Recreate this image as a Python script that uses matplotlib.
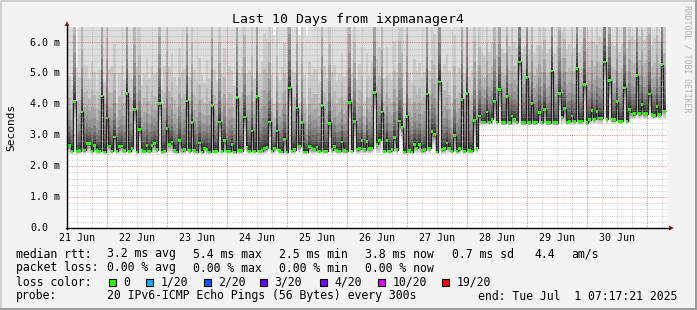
import numpy as np
import matplotlib
matplotlib.use("Agg")
from matplotlib import pyplot as plt
from matplotlib.patches import Polygon, Rectangle

plt.rcParams['font.family'] = 'DejaVu Sans Mono'

# hourly bins, one row per day (hours since graph start)
median = [
    2.68, 2.48, 4.10, 2.48, 2.50, 3.75, 2.52, 2.73, 2.72, 2.48, 2.68, 2.50, 2.48, 4.27, 2.46, 3.56, 2.65, 2.48, 2.94, 2.48, 2.63, 2.65, 2.50, 4.35,
    2.48, 2.58, 3.83, 2.46, 3.18, 2.50, 2.48, 2.66, 2.48, 2.66, 2.72, 2.53, 4.02, 2.46, 2.48, 3.22, 2.71, 2.78, 2.50, 2.46, 2.83, 2.50, 2.53, 4.11,
    2.50, 3.41, 2.50, 2.46, 2.75, 2.46, 2.58, 2.55, 2.46, 3.95, 2.48, 2.48, 3.43, 2.48, 2.83, 2.48, 2.48, 2.70, 2.46, 4.21, 2.50, 2.50, 3.59, 2.62,
    2.48, 3.14, 2.48, 4.24, 2.48, 2.50, 2.56, 2.60, 3.43, 2.48, 2.58, 3.14, 2.50, 2.46, 2.86, 2.46, 4.53, 2.48, 2.53, 3.88, 2.65, 3.40, 2.46, 2.46,
    2.63, 2.56, 2.53, 2.62, 2.48, 3.95, 2.48, 2.48, 3.38, 2.53, 2.63, 2.50, 2.48, 2.78, 2.50, 2.48, 4.06, 2.48, 3.45, 2.53, 2.56, 2.84, 2.53, 2.80,
    2.56, 2.58, 4.38, 2.71, 2.84, 3.75, 2.48, 2.84, 2.48, 2.53, 2.92, 2.53, 3.46, 3.24, 2.46, 3.61, 2.50, 2.46, 2.70, 2.58, 2.71, 2.50, 2.53, 4.33,
    2.58, 3.11, 3.02, 2.46, 4.72, 2.53, 2.56, 2.75, 2.58, 2.48, 2.99, 2.48, 2.56, 4.16, 2.48, 4.35, 2.50, 2.48, 3.48, 2.58, 3.62, 3.43, 3.43, 3.75,
    3.43, 3.52, 4.10, 3.43, 4.49, 3.40, 3.40, 4.24, 3.40, 3.62, 3.52, 3.43, 5.37, 3.40, 3.40, 4.86, 3.40, 4.02, 3.40, 3.43, 3.73, 3.40, 3.84, 3.40,
    3.40, 5.08, 3.40, 3.40, 4.35, 3.59, 3.86, 3.42, 3.45, 3.62, 3.45, 5.16, 3.45, 3.45, 4.64, 3.40, 3.50, 3.81, 3.52, 3.78, 3.56, 3.56, 5.37, 3.52,
    4.76, 3.50, 3.50, 4.08, 3.45, 3.45, 4.53, 3.45, 3.84, 3.67, 3.70, 4.92, 3.70, 3.99, 3.70, 3.70, 4.33, 3.67, 3.63, 3.92, 3.67, 5.28, 3.78,
]

# lowest ping of each bin
lowest = [
    2.40, 2.40, 3.58, 2.40, 2.40, 3.30, 2.40, 2.42, 2.42, 2.40, 2.41, 2.40, 2.40, 3.62, 2.40, 3.10, 2.40, 2.40, 2.45, 2.40, 2.40, 2.41, 2.40, 3.70,
    2.40, 2.41, 3.35, 2.40, 2.80, 2.40, 2.40, 2.41, 2.40, 2.41, 2.42, 2.40, 3.50, 2.40, 2.40, 2.80, 2.41, 2.42, 2.40, 2.40, 2.44, 2.40, 2.40, 3.60,
    2.40, 2.95, 2.40, 2.40, 2.42, 2.40, 2.41, 2.40, 2.40, 3.45, 2.40, 2.40, 2.95, 2.40, 2.43, 2.40, 2.40, 2.41, 2.40, 3.68, 2.40, 2.40, 3.10, 2.41,
    2.40, 2.75, 2.40, 3.70, 2.40, 2.40, 2.40, 2.41, 2.95, 2.40, 2.40, 2.75, 2.40, 2.40, 2.44, 2.40, 3.95, 2.40, 2.40, 3.35, 2.41, 2.95, 2.40, 2.40,
    2.41, 2.40, 2.40, 2.41, 2.40, 3.45, 2.40, 2.40, 2.92, 2.40, 2.41, 2.40, 2.40, 2.42, 2.40, 2.40, 3.55, 2.40, 2.98, 2.40, 2.40, 2.43, 2.40, 2.42,
    2.40, 2.41, 3.85, 2.41, 2.43, 3.25, 2.40, 2.43, 2.40, 2.40, 2.45, 2.40, 2.98, 2.80, 2.40, 3.12, 2.40, 2.40, 2.41, 2.40, 2.41, 2.40, 2.40, 3.80,
    2.41, 2.70, 2.62, 2.40, 4.15, 2.40, 2.40, 2.42, 2.41, 2.40, 2.50, 2.40, 2.40, 3.62, 2.40, 3.80, 2.40, 2.40, 3.00, 2.41, 3.30, 3.32, 3.32, 3.34,
    3.32, 3.33, 3.55, 3.32, 3.90, 3.32, 3.32, 3.70, 3.32, 3.34, 3.33, 3.32, 4.80, 3.32, 3.32, 4.30, 3.32, 3.50, 3.32, 3.32, 3.36, 3.32, 3.40, 3.32,
    3.32, 4.50, 3.32, 3.32, 3.80, 3.33, 3.40, 3.32, 3.32, 3.34, 3.32, 4.60, 3.32, 3.32, 4.10, 3.32, 3.36, 3.40, 3.36, 3.40, 3.36, 3.36, 4.80, 3.36,
    4.20, 3.36, 3.36, 3.55, 3.36, 3.36, 4.00, 3.36, 3.40, 3.52, 3.52, 4.35, 3.52, 3.60, 3.52, 3.52, 3.80, 3.52, 3.52, 3.60, 3.52, 4.70, 3.54,
]

# how far the slow pings of each bin reach above the median
spread = [
    1.8, 1.6, 3.4, 0.84, 1.9, 3.2, 2.2, 2.0, 1.7, 2.3, 1.9, 1.6, 2.1, 3.6, 1.8, 3.0, 2.0, 2.2, 2.4, 1.26, 1.9, 2.1, 1.8, 3.4,
    2.0, 1.8, 3.3, 2.2, 2.8, 1.7, 2.0, 2.3, 1.9, 2.1, 1.8, 2.0, 3.5, 1.6, 2.2, 2.9, 2.0, 2.3, 1.9, 1.7, 2.4, 2.0, 2.1, 3.5,
    1.9, 3.0, 2.1, 1.8, 2.2, 2.0, 1.7, 2.3, 1.9, 3.5, 2.1, 1.8, 3.0, 2.0, 2.4, 1.32, 2.2, 1.9, 1.7, 3.6, 2.0, 2.2, 3.1, 1.9,
    2.1, 2.8, 1.9, 3.6, 2.0, 2.3, 3.0, 2.8, 3.0, 2.0, 1.14, 2.8, 1.8, 2.2, 2.5, 1.9, 3.8, 2.1, 2.0, 3.3, 1.12, 3.0, 2.0, 1.18,
    2.2, 1.9, 2.1, 2.0, 1.8, 3.5, 2.2, 1.9, 3.0, 2.0, 2.1, 1.8, 2.0, 2.3, 1.9, 2.1, 3.5, 2.0, 3.0, 1.8, 2.2, 2.4, 1.27, 2.3,
    1.9, 2.2, 3.6, 2.2, 2.4, 3.2, 1.9, 2.4, 2.0, 1.8, 2.5, 2.0, 3.0, 2.8, 1.26, 3.1, 2.0, 1.8, 2.2, 2.0, 2.1, 1.9, 2.0, 3.6,
    2.0, 2.7, 2.6, 1.9, 3.8, 2.0, 2.2, 2.3, 2.0, 1.24, 2.6, 2.0, 2.1, 3.5, 2.0, 3.6, 1.9, 2.1, 3.0, 2.0, 2.6, 1.8, 1.7, 2.6,
    1.8, 2.0, 3.0, 1.7, 3.2, 1.9, 1.8, 3.1, 2.0, 2.3, 2.0, 1.9, 3.4, 1.8, 2.0, 3.3, 1.9, 3.0, 1.8, 2.0, 2.5, 1.9, 2.6, 1.8,
    1.9, 3.4, 1.8, 2.0, 3.2, 2.2, 2.6, 1.9, 2.0, 2.3, 1.9, 3.4, 1.8, 2.0, 3.3, 1.9, 2.0, 2.6, 2.0, 2.5, 2.1, 2.0, 3.4, 1.9,
    3.3, 2.0, 1.9, 3.0, 1.8, 2.0, 3.2, 1.9, 2.6, 2.0, 1.9, 3.3, 2.0, 2.8, 1.9, 2.0, 3.1, 1.8, 2.0, 2.7, 1.9, 3.4, 2.2,
]

day_labels = ['21 Jun', '22 Jun', '23 Jun', '24 Jun', '25 Jun',
              '26 Jun', '27 Jun', '28 Jun', '29 Jun', '30 Jun']
y_labels = ['0.0', '1.0 m', '2.0 m', '3.0 m', '4.0 m', '5.0 m', '6.0 m']

loss_names = ['0', '1/20', '2/20', '3/20', '4/20', '10/20', '19/20']
loss_colors = ['#26ff00', '#00b8ff', '#0059ff', '#5e00ff', '#7e00ff', '#dd00ff', '#ff0000']

W, H = 697, 310


def fx(x):
    return x / W


def fy(y):
    return 1 - y / H


med = np.array(median)
lo = np.array(lowest)
sp = np.array(spread)
n = len(med)
edges = 0.4 + np.arange(n + 1)

# sorted pings of a bin: 10 below the median, 10 above
f_low = np.array([0, 0.25, 0.45, 0.6, 0.72, 0.82, 0.9, 0.95, 0.98, 1.0])
q_up = np.array([0.04, 0.09, 0.15, 0.23, 0.33, 0.46, 0.63, 0.86, 1.25, 3.2])
lower = lo[:, None] + (med - lo)[:, None] * f_low[None, :]
upper = med[:, None] + sp[:, None] * q_up[None, :]

fig = plt.figure(figsize=(W / 100, H / 100), dpi=100)
fig.patch.set_facecolor('#f3f3f3')
ax = fig.add_axes([fx(67), fy(228), 600 / W, 201 / H])
ax.set_facecolor('white')
ax.set_xlim(0, 240)
ax.set_ylim(0, 6.5)
for s in ax.spines.values():
    s.set_visible(False)
ax.set_xticks([])
ax.set_yticks([])

# smoke
for k in range(10):
    g = int(190 / 10 * (9 - k)) + 50
    c = '#%02x%02x%02x' % (g, g, g)
    ax.stairs(upper[:, 9 - k], edges, baseline=lower[:, k], fill=True,
              color=c, lw=0, zorder=1)

# median line and loss coloured marks
ax.stairs(med, edges, baseline=None, color='#202020', lw=1.0, zorder=3)
sw = 0.045
ax.bar(edges[:-1], 2 * sw, width=1.0, bottom=med - sw, align='edge',
       color=loss_colors[0], lw=0, zorder=4)

# grid on top, like rrdtool
dots = (0, (1, 1))
for v in np.arange(0.2, 6.5, 0.2):
    if abs(v - round(v)) > 0.01:
        ax.axhline(v, color='#a0a0a0', alpha=0.45, lw=0.8, ls=dots, zorder=5)
midnights = 16 + 24 * np.arange(10)
for h in np.arange(4, 240, 6):
    if (h - 16) % 24 != 0:
        ax.axvline(h, color='#a0a0a0', alpha=0.45, lw=0.8, ls=dots, zorder=5)
for v in range(1, 7):
    ax.axhline(v, color='#d03030', alpha=0.5, lw=0.8, ls=dots, zorder=6)
for h in midnights:
    ax.axvline(h, color='#d03030', alpha=0.5, lw=0.8, ls=dots, zorder=6)

# axes with arrows
fig.add_artist(plt.Line2D([fx(67), fx(67)], [fy(228.5), fy(25)], color='black', lw=1))
fig.add_artist(plt.Line2D([fx(66), fx(670)], [fy(228), fy(228)], color='black', lw=1))
fig.add_artist(Polygon([[fx(64.5), fy(26)], [fx(69.5), fy(26)], [fx(67), fy(21)]],
                       closed=True, color='#a02020', lw=0))
fig.add_artist(Polygon([[fx(669), fy(225.5)], [fx(669), fy(230.5)], [fx(674), fy(228)]],
                       closed=True, color='#a02020', lw=0))

# tick labels
for i, lab in enumerate(y_labels):
    fig.text(fx(30), fy(228 - i * 30.9), lab, fontsize=7.2, ha='left', va='center')
for i, lab in enumerate(day_labels):
    fig.text(fx(77 + 60 * i), fy(238), lab, fontsize=7.2, ha='center', va='center')

fig.text(fx(347.5), fy(19), 'Last 10 Days from ixpmanager4', fontsize=9.5,
         ha='center', va='center')
fig.text(fx(11), fy(127), 'Seconds', fontsize=8, rotation=90, ha='center', va='center')
fig.text(fx(687), fy(59), 'RRDTOOL / TOBI OETIKER', fontsize=5.9, rotation=270,
         ha='center', va='center', color='#b0b0b0')

# legend
fs = 8.3
rows = [
    (254, [(16, 'median rtt:'), (107, '3.2 ms avg'), (193, '5.4 ms max'),
           (279, '2.5 ms min'), (365, '3.8 ms now'), (451.5, '0.7 ms sd'),
           (534, '4.4'), (571.5, 'am/s')]),
    (268, [(16, 'packet loss:'), (107, '0.00 % avg'), (193, '0.00 % max'),
           (279, '0.00 % min'), (365, '0.00 % now')]),
    (296, [(16, 'probe:'), (107, '20 IPv6-ICMP Echo Pings (56 Bytes) every 300s'),
           (478.5, 'end: Tue Jul  1 07:17:21 2025')]),
]
for y, items in rows:
    for x, t in items:
        fig.text(fx(x), fy(y), t, fontsize=fs, ha='left', va='center')

fig.text(fx(16), fy(282), 'loss color:', fontsize=fs, ha='left', va='center')
box_x = [108.5, 145.5, 203.5, 260, 319.5, 377.5, 442]
for bx, name, c in zip(box_x, loss_names, loss_colors):
    fig.add_artist(Rectangle((fx(bx), fy(286)), 7 / W, 7 / H, facecolor=c,
                             edgecolor='black', lw=0.8))
    fig.text(fx(bx + 14.7), fy(282), name, fontsize=fs, ha='left', va='center')

# 3d frame
fig.add_artist(Rectangle((0, 0), 1, 2 / H, color='#9c9c9c', lw=0))
fig.add_artist(Rectangle((1 - 2 / W, 0), 2 / W, 1, color='#9c9c9c', lw=0))
fig.add_artist(Rectangle((0, 1 - 2 / H), 1 - 2 / W, 2 / H, color='#d0d0d0', lw=0))
fig.add_artist(Rectangle((0, 2 / H), 2 / W, 1 - 4 / H, color='#d0d0d0', lw=0))

fig.savefig('out.png', dpi=100, facecolor=fig.get_facecolor())
